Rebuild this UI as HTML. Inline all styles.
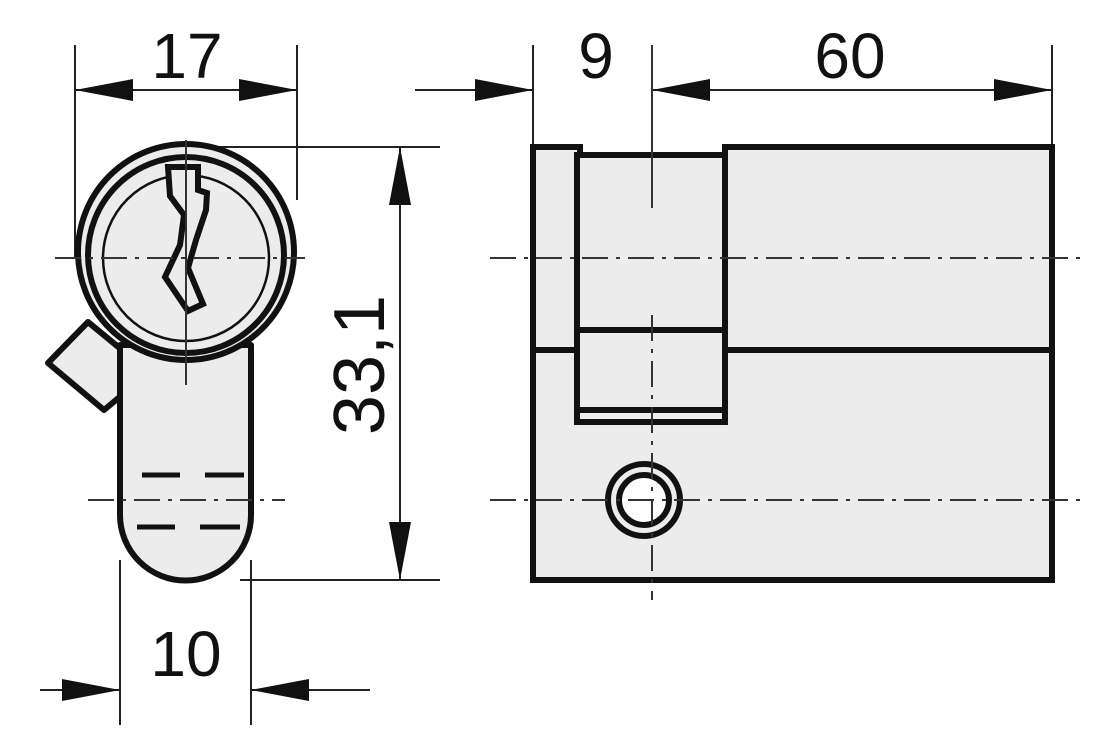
<!DOCTYPE html>
<html><head><style>body{margin:0;background:#fff}svg{display:block}</style></head><body>
<svg width="1112" height="748" viewBox="0 0 1112 748" xmlns="http://www.w3.org/2000/svg">
<g stroke="#222" stroke-width="2" fill="none">
<line x1="75" y1="45" x2="75" y2="258"/><line x1="297" y1="45" x2="297" y2="200"/>
<line x1="186" y1="147" x2="440" y2="147"/><line x1="240" y1="580" x2="440" y2="580"/>
<line x1="120" y1="560" x2="120" y2="725"/><line x1="251" y1="560" x2="251" y2="725"/>
<line x1="533" y1="45" x2="533" y2="147"/><line x1="1052" y1="45" x2="1052" y2="147"/>
<line x1="75" y1="90" x2="297" y2="90"/>
<line x1="400" y1="147" x2="400" y2="580"/>
<line x1="40" y1="690" x2="120" y2="690"/>
<line x1="370" y1="690" x2="251" y2="690"/>
<line x1="415" y1="90" x2="533" y2="90"/>
<line x1="652" y1="90" x2="1052" y2="90"/>
</g>
<g fill="#111">
<path d="M75,90 L133,79 L133,101Z"/><path d="M297,90 L239,79 L239,101Z"/>
<path d="M400,147 L389,205 L411,205Z"/><path d="M400,580 L389,522 L411,522Z"/>
<path d="M120,690 L62,679 L62,701Z"/><path d="M251,690 L309,679 L309,701Z"/>
<path d="M533,90 L475,79 L475,101Z"/>
<path d="M652,90 L710,79 L710,101Z"/><path d="M1052,90 L994,79 L994,101Z"/>
</g>
<!-- left view -->
<g stroke="#111" stroke-width="6" fill="#ececec" stroke-linejoin="round">
<path d="M48,363 L88,322 L122,350 L122,395 L104,410 Z"/>
<path d="M120,345 L120,515 A65.5,65.5 0 0 0 251,515 L251,345 Z"/>
<circle cx="186" cy="252" r="108"/>
<circle cx="186" cy="255" r="98"/>
</g>
<circle cx="186" cy="258" r="83" fill="none" stroke="#111" stroke-width="2.5"/>
<path d="M168,167 L198,167 L198,190 L207,193 L206,210 L196,240 L188,268 L203,304 L188,311 L165,277 L180,245 L184,215 L170,196 Z" fill="#ececec" stroke="#111" stroke-width="6" stroke-linejoin="miter"/>
<g stroke="#111" stroke-width="5">
<line x1="142" y1="475" x2="180" y2="475"/><line x1="205" y1="475" x2="244" y2="475"/>
<line x1="137" y1="527" x2="175" y2="527"/><line x1="200" y1="527" x2="240" y2="527"/>
</g>
<!-- right view -->
<g stroke="#111" stroke-width="6" fill="#ececec">
<path d="M533,147 L580,147 L580,155 L725,155 L725,147 L1052,147 L1052,580 L533,580 Z"/>
<rect x="577" y="155" width="148" height="267"/>
<line x1="533" y1="350" x2="577" y2="350"/><line x1="725" y1="350" x2="1052" y2="350"/>
<line x1="577" y1="330" x2="725" y2="330"/><line x1="577" y1="410" x2="725" y2="410"/>
<circle cx="644" cy="500" r="36"/>
<circle cx="644" cy="500" r="25" fill="#fff"/>
</g>
<g stroke="#333" stroke-width="2" fill="none" stroke-dasharray="26,8,4,8">
<line x1="55" y1="258" x2="305" y2="258"/>
<line x1="88" y1="500" x2="285" y2="500"/>
<line x1="490" y1="258" x2="1085" y2="258"/>
<line x1="490" y1="500" x2="1085" y2="500"/>
<line x1="652" y1="315" x2="652" y2="600"/>
</g>
<g stroke="#333" stroke-width="2">
<line x1="186" y1="140" x2="186" y2="385"/>
<line x1="652" y1="45" x2="652" y2="208"/>
</g>
<g font-family="Liberation Sans, sans-serif" font-size="64" fill="#111" text-anchor="middle">
<text x="187" y="78">17</text>
<text x="596" y="78">9</text>
<text x="850" y="78">60</text>
<text x="186" y="676">10</text>
<text transform="translate(384,365) rotate(-90)" font-size="72">33,1</text>
</g>
</svg>
</body></html>
